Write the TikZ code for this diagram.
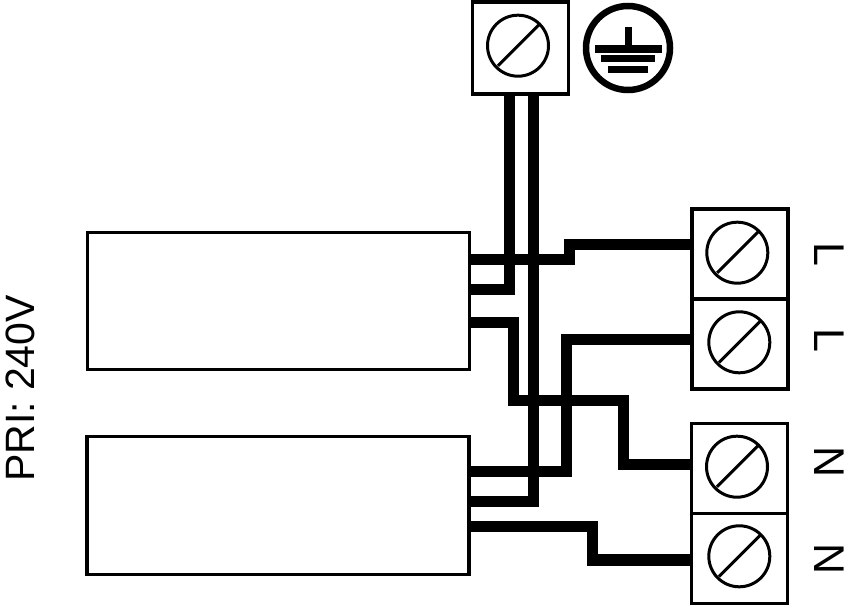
\documentclass[tikz,border=0pt]{standalone}
\usepackage{fontspec}
\setmainfont{Liberation Sans}
\tikzstyle{psu} = [rectangle, draw=black, line width=3.2pt, minimum width=382pt, minimum height=137.5pt, inner sep=0pt, outer sep=0pt]
\tikzstyle{term} = [rectangle, draw=black, line width=3.6pt, minimum width=96pt, minimum height=90pt, inner sep=0pt, outer sep=0pt]
\tikzstyle{screw} = [circle, draw=black, line width=3pt, minimum size=61pt, inner sep=0pt, outer sep=0pt]
\tikzstyle{wire} = [line width=11.4pt, black]
\tikzstyle{slash} = [line width=3pt, black, shorten <=2pt]
\tikzstyle{lbl} = [inner sep=0pt, font=\fontsize{43}{43}\selectfont]

\begin{document}
\begin{tikzpicture}[x=1pt,y=1pt,node distance=90pt]
\useasboundingbox (0,0) rectangle (848,606);

    \node[psu] (PA) at (278.5,305) {};
    \node[psu] (PB) at (278,100.5) {};

    \node[term, minimum height=92pt] (EB) at (520.3,558) {};
    \node[term] (TL1) at (740,352) {};
    \node[term] (TL2) [below of=TL1] {};
    \node[term] (TN1) at (739.3,137.5) {};
    \node[term] (TN2) [below of=TN1] {};

    \node[screw] (SE) at (518,560.3) {};
    \node[screw] (SL1) at (737.3,353.3) {};
    \node[screw] (SL2) at (739.3,263.7) {};
    \node[screw] (SN1) at (737,139.3) {};
    \node[screw] (SN2) at (739.3,49.7) {};
    \foreach \s in {SE,SL1,SL2,SN1,SN2}
        \draw[slash] (\s.225) -- (\s.45);

    \draw[wire] ([xshift=-10.6pt]EB.south) |- ([yshift=11.3pt]PA.east);
    \draw[wire] ([xshift=12.9pt]EB.south) |- ([yshift=4.2pt]PB.east);
    \draw[wire] ([yshift=41.5pt]PA.east) -- ++(99.8,0) |- ([yshift=9.3pt]TL1.west);
    \draw[wire] ([yshift=-21.3pt]PA.east) -- ++(43.8,0) |- (623.7,205.7) |- ([yshift=3.8pt]TN1.west);
    \draw[wire] ([yshift=4.7pt]TL2.west) -- (566.7,266.7) |- ([yshift=34.2pt]PB.east);
    \draw[wire] ([yshift=-20.8pt]PB.east) -- ++(123.2,0) |- ([yshift=-1.3pt]TN2.west);

    % earth symbol
    \node[circle, draw=black, line width=6.5pt, minimum size=84pt, inner sep=0pt, outer sep=0pt] (GND) at (628,558) {};
    \fill (624.5,561) rectangle (631.5,579);
    \fill (594.7,553.3) rectangle (662,561);
    \fill (601,544) rectangle (655,551);
    \fill (608,533.3) rectangle (648,540.3);

    \node[lbl, rotate=-90] (LL1) at (829,352) {L};
    \node[lbl, rotate=-90] (LL2) at (829,266) {L};
    \node[lbl, rotate=-90] (LN1) at (829,143.5) {N};
    \node[lbl, rotate=-90] (LN2) at (829,46.5) {N};
    \node[lbl, rotate=90, font=\fontsize{41}{41}\selectfont] (PRI) at (20,217.5) {PRI: 240V};

\end{tikzpicture}
\end{document}
